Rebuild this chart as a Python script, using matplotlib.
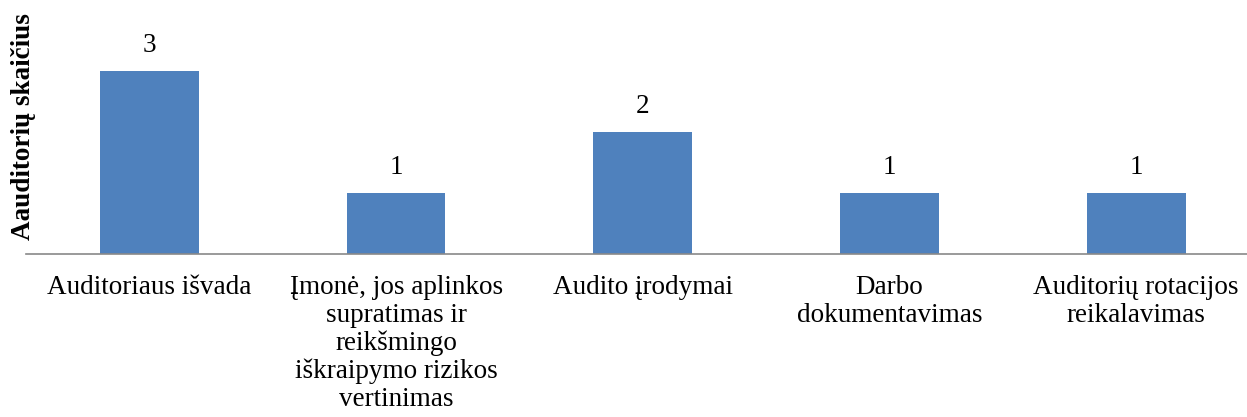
import numpy as np
import matplotlib
matplotlib.use("Agg")
import matplotlib.pyplot as plt

categories = ["Auditoriaus išvada",
              "Įmonė, jos aplinkos\nsupratimas ir\nreikšmingo\niškraipymo rizikos\nvertinimas",
              "Audito įrodymai",
              "Darbo\ndokumentavimas",
              "Auditorių rotacijos\nreikalavimas"]
values = [3, 1, 2, 1, 1]

plt.rcParams['font.family'] = ['Liberation Serif', 'DejaVu Serif']

fig = plt.figure(figsize=(12.47, 4.17), dpi=100)
ax = fig.add_axes([0.0209, 0.391, 0.9892, 0.556])

x = np.arange(len(categories))
bars = ax.bar(x, values, width=0.4, color='#4F81BD')
ax.set_xlim(-0.5, len(categories) - 0.5)
ax.set_ylim(0, 3.8)

for b, v in zip(bars, values):
    ax.annotate(str(v), (b.get_x() + b.get_width() / 2, v), xytext=(0, 9),
                textcoords='offset points', ha='center', va='bottom', fontsize=19.5)

ax.set_xticks(x)
ax.set_xticklabels(categories, fontsize=19.5, linespacing=1.15)
ax.tick_params(axis='x', length=0, pad=15)
ax.set_yticks([])
for s in ['top', 'right', 'left']:
    ax.spines[s].set_visible(False)
ax.spines['bottom'].set_color('#898989')
ax.spines['bottom'].set_linewidth(1.2)

fig.text(0.0185, 0.696, "Aauditorių skaičius", rotation=90, ha='center', va='center',
         fontsize=19.5, fontweight='bold')

fig.savefig("out.png", dpi=100)
